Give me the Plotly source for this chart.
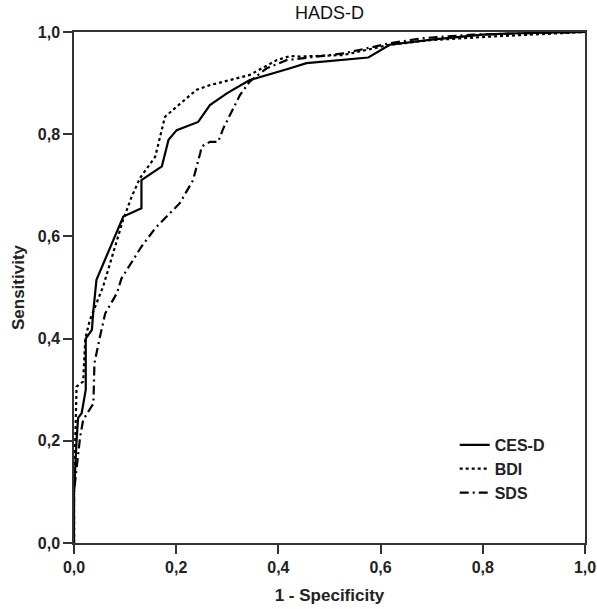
import plotly.graph_objects as go

# CES-D (solid)
cesd_x = [0.0, 0.0, 0.005, 0.008, 0.015, 0.023, 0.023, 0.035, 0.038, 0.044, 0.0965, 0.132, 0.132, 0.172, 0.185, 0.201, 0.243, 0.266, 0.299, 0.344, 0.423, 0.455, 0.576, 0.618, 0.70, 0.80, 0.847, 1.0]
cesd_y = [0.0, 0.098, 0.20, 0.245, 0.254, 0.30, 0.40, 0.417, 0.456, 0.515, 0.639, 0.655, 0.710, 0.737, 0.789, 0.808, 0.824, 0.857, 0.880, 0.906, 0.929, 0.939, 0.950, 0.975, 0.985, 0.995, 0.997, 1.0]

# BDI (dotted)
bdi_x = [0.0, 0.0, 0.005, 0.018, 0.022, 0.031, 0.057, 0.077, 0.096, 0.113, 0.129, 0.159, 0.178, 0.201, 0.240, 0.266, 0.344, 0.397, 0.423, 0.442, 0.527, 0.618, 0.697, 0.814, 0.945, 1.0]
bdi_y = [0.0, 0.10, 0.306, 0.316, 0.40, 0.436, 0.502, 0.567, 0.632, 0.678, 0.714, 0.756, 0.834, 0.854, 0.887, 0.896, 0.916, 0.945, 0.953, 0.952, 0.955, 0.975, 0.984, 0.991, 0.997, 1.0]

# SDS (dash-dot)
sds_x = [0.0, 0.0, 0.012, 0.018, 0.038, 0.040, 0.050, 0.061, 0.084, 0.093, 0.132, 0.159, 0.207, 0.233, 0.247, 0.250, 0.266, 0.282, 0.292, 0.325, 0.344, 0.377, 0.416, 0.442, 0.527, 0.618, 0.684, 0.781, 0.879, 1.0]
sds_y = [0.0, 0.10, 0.208, 0.241, 0.273, 0.352, 0.40, 0.449, 0.489, 0.518, 0.580, 0.616, 0.665, 0.710, 0.763, 0.776, 0.785, 0.785, 0.811, 0.877, 0.903, 0.929, 0.945, 0.948, 0.958, 0.978, 0.988, 0.995, 0.997, 1.0]

series_names = ["CES-D", "BDI", "SDS"]
tick_vals = [0.0, 0.2, 0.4, 0.6, 0.8, 1.0]

NARROW = "Liberation Sans Narrow, Arial Narrow, Liberation Sans, Arial, sans-serif"
SANS = "Liberation Sans, Arial, sans-serif"

fig = go.Figure()
fig.add_trace(go.Scatter(x=cesd_x, y=cesd_y, mode="lines", name=series_names[0],
                         line=dict(color="black", width=2.2, dash="solid")))
fig.add_trace(go.Scatter(x=bdi_x, y=bdi_y, mode="lines", name=series_names[1],
                         line=dict(color="black", width=2.2, dash="dot")))
fig.add_trace(go.Scatter(x=sds_x, y=sds_y, mode="lines", name=series_names[2],
                         line=dict(color="black", width=2.2, dash="9px,4px,2px,4px")))

axis_common = dict(
    range=[0, 1], tickvals=tick_vals, tickformat=".1f",
    showgrid=False, zeroline=False, automargin=False,
    showline=True, linecolor="#333333", linewidth=1.5, mirror=True,
    ticks="outside", ticklen=9, tickwidth=1.5, tickcolor="#333333",
    tickfont=dict(family=SANS, size=16, color="#222222", weight="bold"),
)

fig.update_layout(
    width=597, height=609,
    margin=dict(l=74, r=12, t=32, b=66),
    paper_bgcolor="white", plot_bgcolor="white",
    separators=", ",
    title=dict(text="HADS-D", x=(74 + (597 - 12)) / 2 / 597, xanchor="center",
               y=1 - 13 / 609, yanchor="middle",
               font=dict(family=SANS, size=18, color="#111111")),
    xaxis=dict(**axis_common,
               title=dict(text="1 - Specificity", standoff=14,
                          font=dict(family=SANS, size=17, color="#222222", weight="bold"))),
    yaxis=dict(**axis_common,
               title=dict(text="Sensitivity", standoff=9,
                          font=dict(family=SANS, size=17, color="#222222", weight="bold"))),
    legend=dict(x=0.745, y=0.225, xanchor="left", yanchor="top",
                bgcolor="rgba(0,0,0,0)", borderwidth=0,
                font=dict(family=NARROW, size=16, color="#222222", weight="bold"),
                itemwidth=30, tracegroupgap=0),
    showlegend=True,
)

fig.write_html("out.html", config={"displayModeBar": False},
               post_script="document.body.style.margin='0px';")
